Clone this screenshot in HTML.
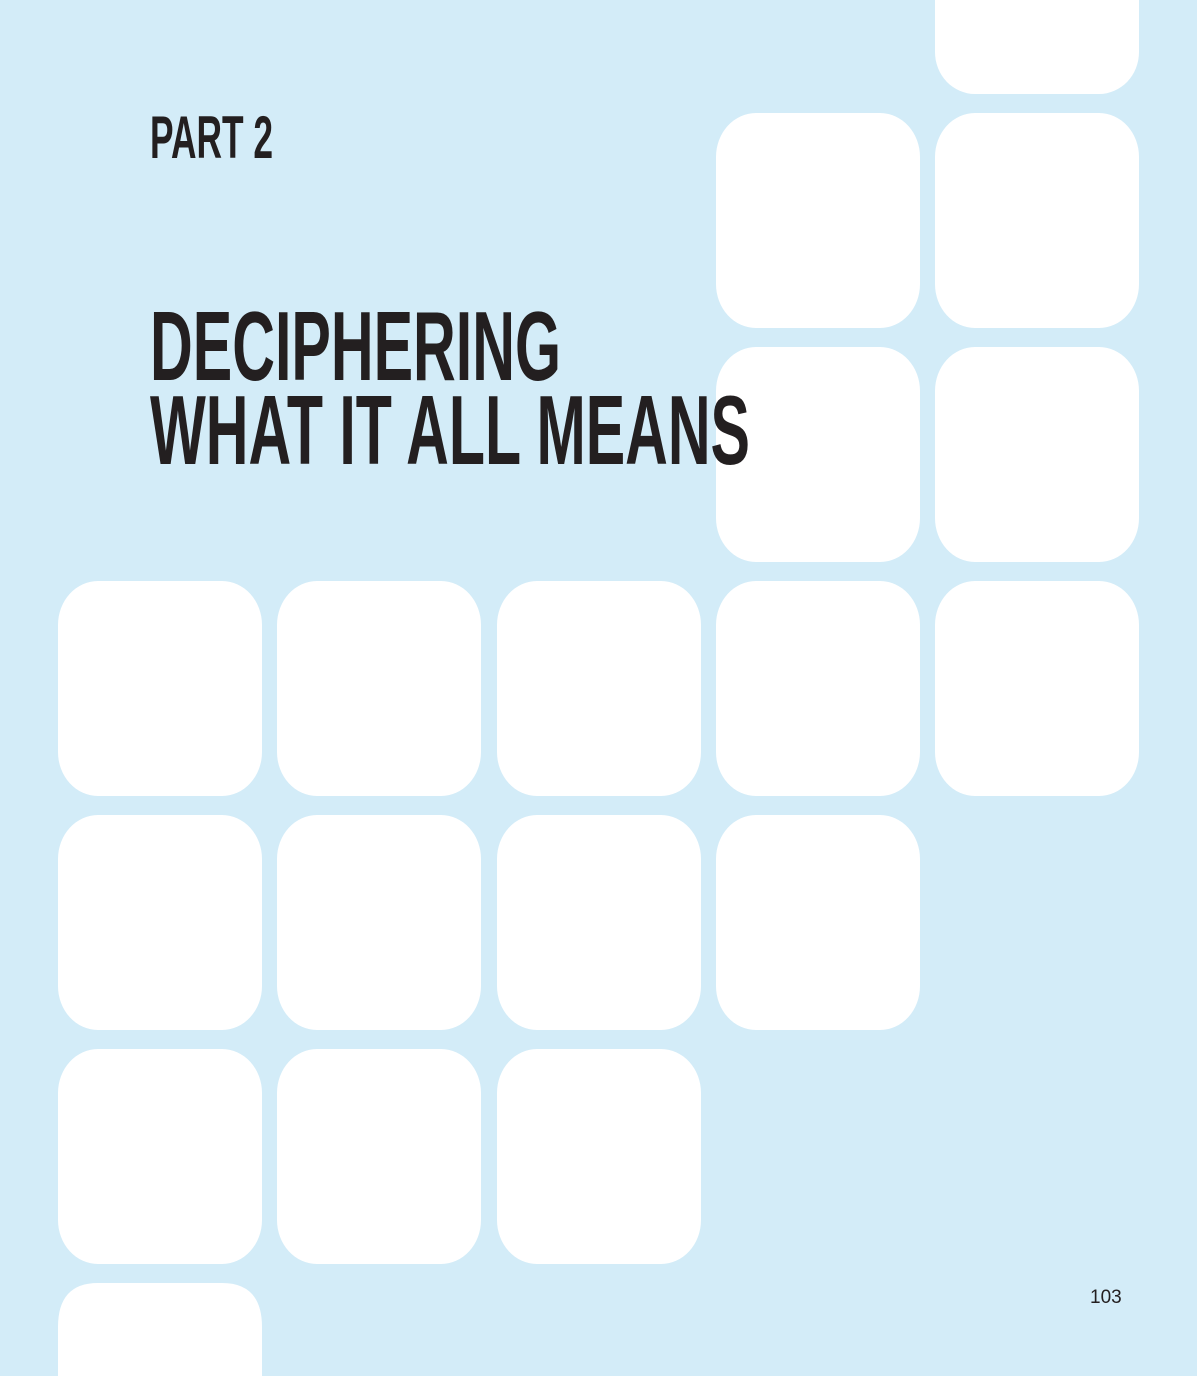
<!DOCTYPE html>
<html><head><meta charset="utf-8"><style>
html,body{margin:0;padding:0;overflow:hidden}
body{width:1197px;height:1376px;background:#d3ecf8;position:relative;overflow:hidden}
svg{position:absolute;left:0;top:0;overflow:hidden}
</style></head><body>
<svg width="1197" height="1376" viewBox="0 0 1197 1376">
<g fill="#fff">
<rect x="935" y="-60" width="204" height="154" rx="40" ry="42"/>
<rect x="716" y="113" width="204" height="215" rx="40" ry="44"/>
<rect x="935" y="113" width="204" height="215" rx="40" ry="44"/>
<rect x="716" y="347" width="204" height="215" rx="40" ry="44"/>
<rect x="935" y="347" width="204" height="215" rx="40" ry="44"/>
<rect x="58" y="581" width="204" height="215" rx="40" ry="44"/>
<rect x="277" y="581" width="204" height="215" rx="40" ry="44"/>
<rect x="497" y="581" width="204" height="215" rx="40" ry="44"/>
<rect x="716" y="581" width="204" height="215" rx="40" ry="44"/>
<rect x="935" y="581" width="204" height="215" rx="40" ry="44"/>
<rect x="58" y="815" width="204" height="215" rx="40" ry="44"/>
<rect x="277" y="815" width="204" height="215" rx="40" ry="44"/>
<rect x="497" y="815" width="204" height="215" rx="40" ry="44"/>
<rect x="716" y="815" width="204" height="215" rx="40" ry="44"/>
<rect x="58" y="1049" width="204" height="215" rx="40" ry="44"/>
<rect x="277" y="1049" width="204" height="215" rx="40" ry="44"/>
<rect x="497" y="1049" width="204" height="215" rx="40" ry="44"/>
<path d="M58 1376 V1327 Q58 1283 98 1283 H222 Q262 1283 262 1327 V1376 Z"/>
</g>
<g fill="#231f20" font-family="Liberation Sans, sans-serif" font-weight="bold">
<text x="150" y="158" font-size="60" textLength="123" lengthAdjust="spacingAndGlyphs">PART 2</text>
<text x="150" y="380" font-size="98" textLength="411" lengthAdjust="spacingAndGlyphs">DECIPHERING</text>
<text x="150" y="464" font-size="98" textLength="600" lengthAdjust="spacingAndGlyphs">WHAT IT ALL MEANS</text>
</g>
<text x="1090" y="1303" font-family="Liberation Sans, sans-serif" font-size="19" fill="#231f20">103</text>
</svg>
</body></html>
